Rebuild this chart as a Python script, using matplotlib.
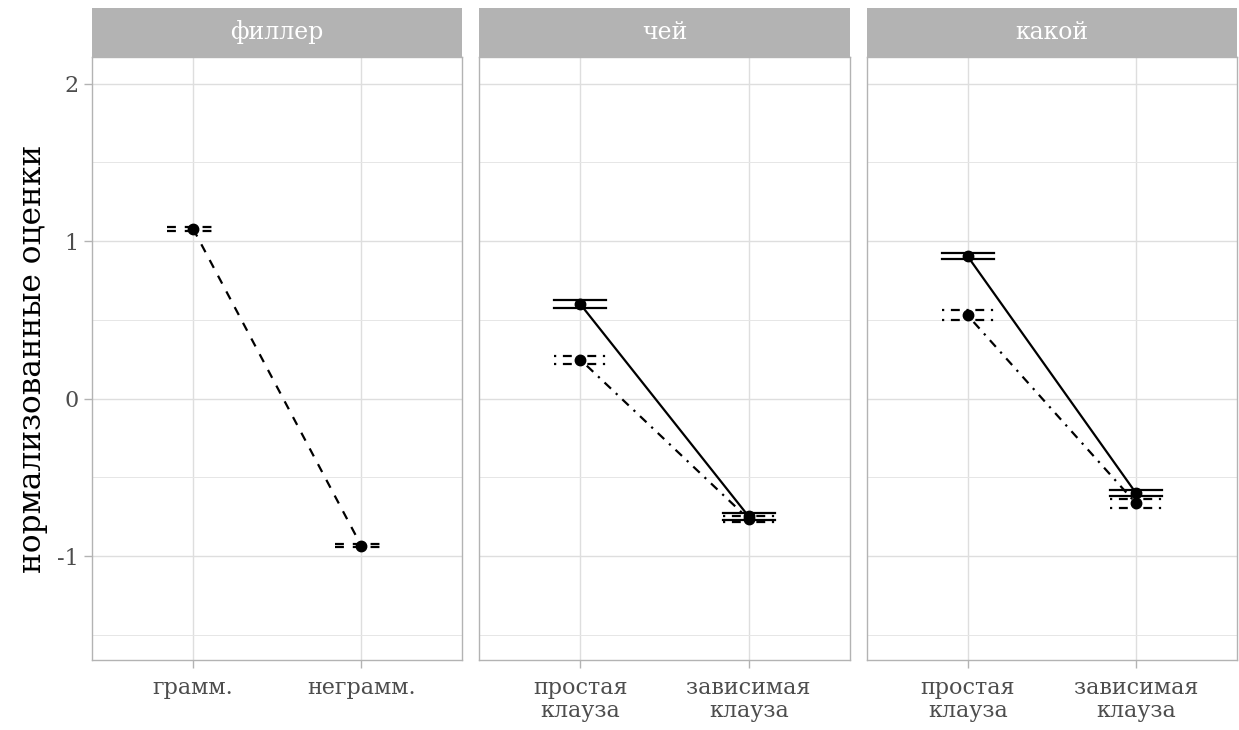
import numpy as np
import matplotlib.pyplot as plt
from matplotlib.patches import Rectangle

# подписи панелей и категорий
panel_titles = ['филлер', 'чей', 'какой']
filler_labels = ['грамм.', 'неграмм.']
clause_labels = ['простая\nклауза', 'зависимая\nклауза']

# средние и стандартные ошибки
filler_mean = [1.08, -0.935]
filler_se = [0.012, 0.010]

chei_solid_mean = [0.600, -0.748]
chei_solid_se = [0.027, 0.020]
chei_dotdash_mean = [0.248, -0.765]
chei_dotdash_se = [0.026, 0.020]

kakoi_solid_mean = [0.904, -0.600]
kakoi_solid_se = [0.020, 0.020]
kakoi_dotdash_mean = [0.529, -0.665]
kakoi_dotdash_se = [0.032, 0.030]

plt.rcParams['font.family'] = ['DejaVu Serif']

DASHED = (0, (4, 4))
DOTDASH = (0, (1, 3, 4, 3))
SOLID = '-'
LW = 1.6
BAR_W = 0.31


def draw_series(ax, means, se, ls):
    x = np.arange(1, len(means) + 1)
    m = np.array(means)
    s = np.array(se)
    ax.plot(x, m, color='black', linestyle=ls, linewidth=LW, zorder=3)
    # errorbar: верх, низ и вертикальная часть
    for xi, mi, si in zip(x, m, s):
        ax.plot([xi - BAR_W / 2, xi + BAR_W / 2], [mi + si, mi + si],
                color='black', linestyle=ls, linewidth=LW, zorder=3)
        ax.plot([xi - BAR_W / 2, xi + BAR_W / 2], [mi - si, mi - si],
                color='black', linestyle=ls, linewidth=LW, zorder=3)
        ax.plot([xi, xi], [mi - si, mi + si], color='black',
                linestyle=ls, linewidth=LW, zorder=3)
    ax.plot(x, m, 'o', color='black', markersize=7.5, zorder=4)


fig = plt.figure(figsize=(12.39, 7.30), dpi=100)

W, H = 1239, 730
left_px, gap_px, right_px = 92, 17, 1237
panel_w = (right_px - left_px - 2 * gap_px) / 3
top_px, bottom_px = 57, 660
strip_px = 49

axes = []
for i in range(3):
    x0 = left_px + i * (panel_w + gap_px)
    ax = fig.add_axes([x0 / W, 1 - bottom_px / H, panel_w / W, (bottom_px - top_px) / H])
    axes.append(ax)

panels_data = [
    (filler_labels, [(filler_mean, filler_se, DASHED)]),
    (clause_labels, [(chei_solid_mean, chei_solid_se, SOLID),
                     (chei_dotdash_mean, chei_dotdash_se, DOTDASH)]),
    (clause_labels, [(kakoi_solid_mean, kakoi_solid_se, SOLID),
                     (kakoi_dotdash_mean, kakoi_dotdash_se, DOTDASH)]),
]

strip_h = strip_px / (bottom_px - top_px)

for i, (ax, (labels, series)) in enumerate(zip(axes, panels_data)):
    for means, se, ls in series:
        draw_series(ax, means, se, ls)

    ax.set_xlim(0.4, 2.6)
    ax.set_ylim(-1.66, 2.17)
    ax.set_xticks([1, 2])
    ax.set_xticklabels(labels, fontsize=16, color='#4D4D4D', linespacing=1.1)
    ax.set_yticks([-1, 0, 1, 2])
    ax.set_yticks([-1.5, -0.5, 0.5, 1.5], minor=True)
    ax.tick_params(axis='both', which='major', color='#B3B3B3', length=6, width=1)
    ax.tick_params(axis='both', which='minor', length=0)
    ax.tick_params(axis='x', pad=6)
    if i == 0:
        ax.set_yticklabels(['-1', '0', '1', '2'], fontsize=16, color='#4D4D4D')
    else:
        ax.tick_params(axis='y', which='both', left=False, labelleft=False)

    ax.grid(True, which='major', color='#DEDEDE', linewidth=1.0)
    ax.grid(True, which='minor', axis='y', color='#E6E6E6', linewidth=0.7)
    ax.set_axisbelow(True)
    for sp in ax.spines.values():
        sp.set_color('#B3B3B3')
        sp.set_linewidth(1.0)

    # полоска с заголовком панели
    ax.add_patch(Rectangle((0, 1), 1, strip_h, transform=ax.transAxes,
                           facecolor='#B3B3B3', edgecolor='none', clip_on=False))
    ax.text(0.5, 1 + strip_h / 2, panel_titles[i], transform=ax.transAxes,
            ha='center', va='center', color='white', fontsize=17)

fig.text(0.026, 1 - (top_px + bottom_px) / 2 / H, 'нормализованные оценки',
         rotation=90, ha='center', va='center', fontsize=22.5, color='black')

fig.savefig('out.png', dpi=100)
